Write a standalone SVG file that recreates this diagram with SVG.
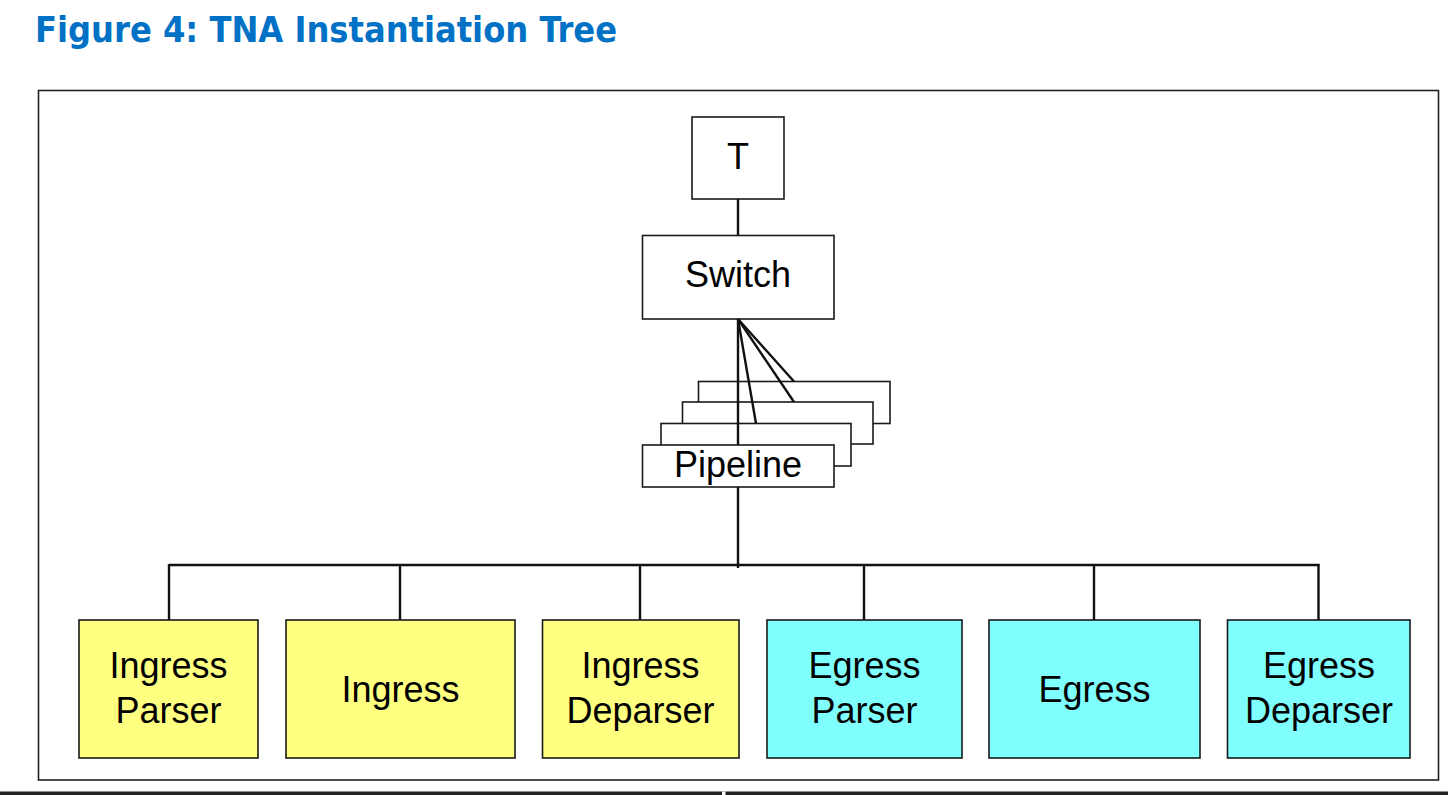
<svg xmlns="http://www.w3.org/2000/svg" width="1448" height="795" viewBox="0 0 1448 795">
<style>
.box{stroke:#1a1a1a;stroke-width:1.6;fill:#ffffff}
.yel{fill:#ffff80}
.cyn{fill:#80ffff}
.lbl{font-family:"Liberation Sans",Arial,sans-serif;font-size:36px;fill:#000;text-anchor:middle}
.con{stroke:#111;stroke-width:2.4;fill:none;stroke-linecap:butt}
.title{font-family:"DejaVu Sans Condensed","DejaVu Sans",sans-serif;font-weight:bold;font-size:35px;fill:#0071c5}
</style>
<rect x="0" y="0" width="1448" height="795" fill="#ffffff"/>
<text class="title" x="35" y="42" textLength="582" lengthAdjust="spacingAndGlyphs">Figure 4: TNA Instantiation Tree</text>
<rect x="38.5" y="90.5" width="1400" height="689.5" fill="none" stroke="#222" stroke-width="1.6"/>
<rect x="0" y="791.5" width="1448" height="4" fill="#222"/>
<rect x="722" y="791.5" width="3.5" height="4" fill="#ffffff"/>

<g id="node-t">
<rect class="box" x="692" y="117" width="92" height="82"/>
<text class="lbl" x="738" y="169">T</text>
</g>
<g id="node-switch">
<rect class="box" x="642.5" y="235.5" width="191.5" height="83.5"/>
<text class="lbl" x="738" y="287">Switch</text>
</g>
<g id="node-pipeline">
<rect class="box" x="698.5" y="381.5" width="191.5" height="42"/>
<rect class="box" x="682.5" y="402" width="190.5" height="42"/>
<rect class="box" x="661" y="423.5" width="190" height="42.5"/>
<rect class="box" x="642.5" y="445" width="191.5" height="42"/>
<text class="lbl" x="738" y="477">Pipeline</text>
</g>
<g id="node-ingress-parser">
<rect class="box yel" x="79" y="620" width="179" height="138"/>
<text class="lbl" x="168.5" y="678">Ingress</text>
<text class="lbl" x="168.5" y="723">Parser</text>
</g>
<g id="node-ingress">
<rect class="box yel" x="286" y="620" width="229" height="138"/>
<text class="lbl" x="400.5" y="702">Ingress</text>
</g>
<g id="node-ingress-deparser">
<rect class="box yel" x="542.5" y="620" width="196.5" height="138"/>
<text class="lbl" x="640.5" y="678">Ingress</text>
<text class="lbl" x="640.5" y="723">Deparser</text>
</g>
<g id="node-egress-parser">
<rect class="box cyn" x="767" y="620" width="195" height="138"/>
<text class="lbl" x="864.5" y="678">Egress</text>
<text class="lbl" x="864.5" y="723">Parser</text>
</g>
<g id="node-egress">
<rect class="box cyn" x="989" y="620" width="211" height="138"/>
<text class="lbl" x="1094.5" y="702">Egress</text>
</g>
<g id="node-egress-deparser">
<rect class="box cyn" x="1227.5" y="620" width="182.5" height="138"/>
<text class="lbl" x="1319" y="678">Egress</text>
<text class="lbl" x="1319" y="723">Deparser</text>
</g>

<g id="connectors">
<line class="con" x1="738" y1="199" x2="738" y2="235.5"/>
<line class="con" x1="738" y1="319" x2="738" y2="445"/>
<line class="con" x1="738" y1="319" x2="756" y2="423.5"/>
<line class="con" x1="738" y1="319" x2="794" y2="402"/>
<line class="con" x1="738" y1="319" x2="794" y2="381.5"/>
<line class="con" x1="738" y1="487" x2="738" y2="568"/>
<line class="con" x1="169" y1="565" x2="1319.5" y2="565"/>
<line class="con" x1="169" y1="564" x2="169" y2="620"/>
<line class="con" x1="400" y1="564" x2="400" y2="620"/>
<line class="con" x1="640" y1="564" x2="640" y2="620"/>
<line class="con" x1="864" y1="564" x2="864" y2="620"/>
<line class="con" x1="1094" y1="564" x2="1094" y2="620"/>
<line class="con" x1="1318.5" y1="564" x2="1318.5" y2="620"/>
</g>
</svg>
